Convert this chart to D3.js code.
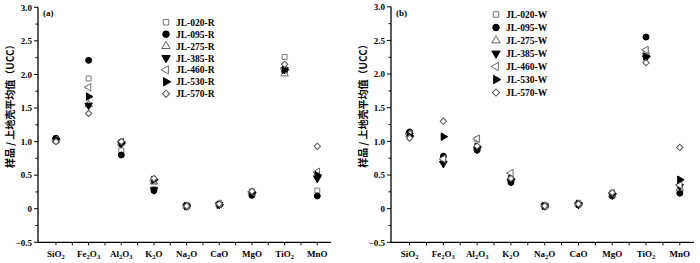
<!DOCTYPE html>
<html>
<head>
<meta charset="utf-8">
<script src="https://cdn.jsdelivr.net/npm/d3@7"></script>
<style>
  body { margin: 0; background: #fff; }
  svg { display: block; font-family: "Liberation Serif", "DejaVu Serif", serif; }
</style>
</head>
<body>
<svg id="chart" width="700" height="263"></svg>
<script>
// oxide labels as [text, isSubscript] pieces
const OXIDES = [
  [["SiO",0],["2",1]], [["Fe",0],["2",1],["O",0],["3",1]], [["Al",0],["2",1],["O",0],["3",1]],
  [["K",0],["2",1],["O",0]], [["Na",0],["2",1],["O",0]], [["CaO",0]], [["MgO",0]],
  [["TiO",0],["2",1]], [["MnO",0]]];

const SAMPLES_A = ['JL-020-R', 'JL-095-R', 'JL-275-R', 'JL-385-R', 'JL-460-R', 'JL-530-R', 'JL-570-R'];
const SAMPLES_B = ['JL-020-W', 'JL-095-W', 'JL-275-W', 'JL-385-W', 'JL-460-W', 'JL-530-W', 'JL-570-W'];

// sample / UCC ratios, order SiO2 Fe2O3 Al2O3 K2O Na2O CaO MgO TiO2 MnO
const VALUES_A = [
  [1.03, 1.94, 0.87, 0.29, 0.04, 0.06, 0.23, 2.26, 0.27],
  [1.05, 2.21, 0.80, 0.27, 0.04, 0.06, 0.20, 2.05, 0.19],
  [1.02, 1.55, 0.98, 0.40, 0.04, 0.07, 0.24, 2.01, 0.52],
  [1.02, 1.54, 0.97, 0.28, 0.04, 0.06, 0.22, 2.07, 0.45],
  [1.02, 1.81, 1.00, 0.42, 0.04, 0.07, 0.25, 2.08, 0.55],
  [1.03, 1.67, 0.98, 0.43, 0.04, 0.06, 0.24, 2.07, 0.50],
  [1.00, 1.42, 1.00, 0.45, 0.04, 0.07, 0.26, 2.15, 0.93]
];
const VALUES_B = [
  [1.12, 0.75, 1.03, 0.43, 0.04, 0.07, 0.22, 2.30, 0.25],
  [1.14, 0.78, 0.87, 0.39, 0.04, 0.06, 0.19, 2.55, 0.23],
  [1.10, 0.72, 0.90, 0.47, 0.04, 0.07, 0.21, 2.33, 0.30],
  [1.09, 0.67, 0.88, 0.40, 0.04, 0.06, 0.20, 2.24, 0.33],
  [1.11, 0.74, 1.04, 0.53, 0.04, 0.07, 0.23, 2.36, 0.35],
  [1.08, 1.07, 0.92, 0.44, 0.04, 0.07, 0.22, 2.26, 0.43],
  [1.05, 1.30, 0.93, 0.45, 0.04, 0.07, 0.24, 2.17, 0.91]
];

const Y_TICKS = [-0.5, 0, 0.5, 1.0, 1.5, 2.0, 2.5, 3.0];

// marker style per sample slot (diamond = square turned 45°)
const MARKS = [
  { type: d3.symbolSquare, rot: 0, fill: '#fff', stroke: '#777' },
  { type: d3.symbolCircle, rot: 0, fill: '#000', stroke: '#000' },
  { type: d3.symbolTriangle, rot: 0, fill: '#fff', stroke: '#666' },
  { type: d3.symbolTriangle, rot: 180, fill: '#000', stroke: '#000' },
  { type: d3.symbolTriangle, rot: -90, fill: '#fff', stroke: '#666' },
  { type: d3.symbolTriangle, rot: 90, fill: '#000', stroke: '#000' },
  { type: d3.symbolSquare, rot: 45, fill: '#fff', stroke: '#555' }
];

const svg = d3.select('#chart');

function panel(opt) {
  const { left, right, top, bottom, tag, names, values, legX, legY, legStep } = opt;
  const g = svg.append('g');
  const x = d3.scaleLinear().domain([0.45, 9.42]).range([left, right]);
  const y = d3.scaleLinear().domain([-0.5, 3.0]).range([bottom, top]);

  // y axis: majors every 0.5, minors every 0.25
  g.append('line').attr('x1', left).attr('x2', left).attr('y1', top).attr('y2', bottom)
    .attr('stroke', '#000').attr('stroke-width', 1.3);
  g.selectAll('line.ymin').data(d3.range(-0.25, 3.0, 0.5)).join('line').attr('class', 'ymin')
    .attr('x1', left - 2.5).attr('x2', left).attr('y1', d => y(d)).attr('y2', d => y(d))
    .attr('stroke', '#000');
  g.selectAll('line.ymaj').data(Y_TICKS).join('line').attr('class', 'ymaj')
    .attr('x1', left - 4).attr('x2', left).attr('y1', d => y(d)).attr('y2', d => y(d))
    .attr('stroke', '#000');
  g.selectAll('text.yl').data(Y_TICKS).join('text').attr('class', 'yl')
    .attr('x', left - 6).attr('y', d => y(d) + 3.2).attr('text-anchor', 'end')
    .attr('font-size', 9).attr('font-weight', 'bold')
    .text(d => d === 0 ? '0' : (d < 0 ? '−' : '') + Math.abs(d).toFixed(1));

  // x axis
  g.append('line').attr('x1', left).attr('x2', right).attr('y1', bottom).attr('y2', bottom)
    .attr('stroke', '#000').attr('stroke-width', 1.3);
  g.selectAll('line.xt').data(d3.range(1, 9.5, 0.5)).join('line').attr('class', 'xt')
    .attr('x1', d => x(d)).attr('x2', d => x(d)).attr('y1', bottom).attr('y2', bottom + 3)
    .attr('stroke', '#000');
  g.selectAll('text.xl').data(OXIDES).join('text').attr('class', 'xl')
    .attr('x', (d, i) => x(i + 1)).attr('y', bottom + 15).attr('text-anchor', 'middle')
    .attr('font-size', 9).attr('font-weight', 'bold')
    .each(function (parts) {
      const t = d3.select(this);
      let shifted = false;
      parts.forEach(([s, sub]) => {
        const dy = sub ? (shifted ? 0 : 2) : (shifted ? -2 : 0);
        shifted = !!sub;
        t.append('tspan').attr('font-size', sub ? 6.5 : 9).attr('dy', dy).text(s);
      });
    });

  // y title
  g.append('text')
    .attr('transform', `translate(${left - 24},${(top + bottom) / 2 - 21}) rotate(-90)`)
    .attr('text-anchor', 'middle').attr('font-size', 10).attr('font-weight', 'bold')
    .attr('font-family', '"Noto Sans CJK SC", sans-serif')
    .text('样品 / 上地壳平均值（UCC）');

  g.append('text').attr('x', left + 5).attr('y', top + 9).attr('font-size', 9)
    .attr('font-weight', 'bold').text(tag);

  // points
  names.forEach((nm, s) => {
    const m = MARKS[s];
    const sym = d3.symbol().type(m.type).size(s === 1 ? 28 : s === 6 ? 20 : 24);
    g.append('g').selectAll('path').data(values[s]).join('path')
      .attr('d', sym)
      .attr('transform', (v, i) => `translate(${x(i + 1)},${y(v)}) rotate(${m.rot})`)
      .attr('fill', m.fill).attr('stroke', m.stroke).attr('stroke-width', 1);
  });

  // legend
  const lg = g.append('g');
  names.forEach((nm, s) => {
    const m = MARKS[s];
    const yy = legY + s * legStep;
    lg.append('path').attr('d', d3.symbol().type(m.type).size(s === 1 ? 34 : s === 6 ? 26 : 30))
      .attr('transform', `translate(${legX},${yy}) rotate(${m.rot})`)
      .attr('fill', m.fill).attr('stroke', m.stroke).attr('stroke-width', 1);
    lg.append('text').attr('x', legX + 10).attr('y', yy + 3.5).attr('font-size', 9.5)
      .attr('font-weight', 'bold').text(nm);
  });
}

panel({ left: 38, right: 331, top: 7.3, bottom: 242.3, tag: '(a)', names: SAMPLES_A, values: VALUES_A,
  legX: 166, legY: 22.3, legStep: 11.9 });
panel({ left: 391, right: 694, top: 6.8, bottom: 242.3, tag: '(b)', names: SAMPLES_B, values: VALUES_B,
  legX: 496, legY: 14.5, legStep: 13 });
</script>
</body>
</html>
